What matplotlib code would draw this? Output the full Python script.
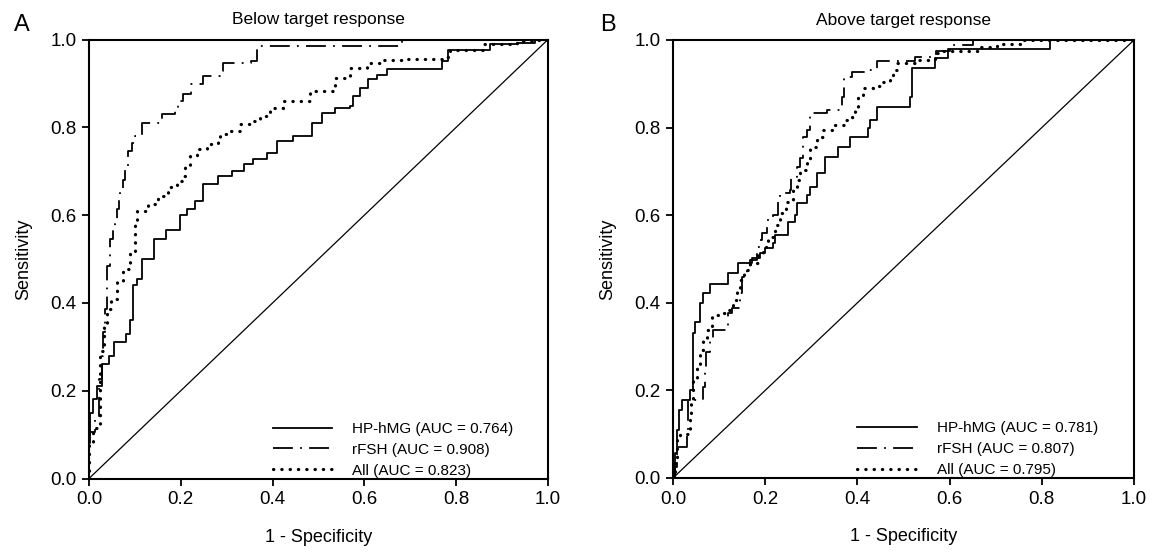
import matplotlib
matplotlib.use("Agg")
import matplotlib.pyplot as plt

plt.rcParams['font.family'] = ['Liberation Sans', 'DejaVu Sans']

# ROC staircase points: (1 - specificity, sensitivity) where each step rises
# Panel A - below target response
a_hmg_x = [0.0, 0.0, 0.003, 0.008, 0.018, 0.029, 0.044, 0.054, 0.080, 0.090, 0.095,
           0.105, 0.116, 0.141, 0.167, 0.198, 0.213, 0.231, 0.249, 0.282, 0.311,
           0.337, 0.357, 0.387, 0.409, 0.444, 0.485, 0.507, 0.537, 0.568, 0.576,
           0.591, 0.608, 0.627, 0.649, 0.769, 0.783, 0.873, 0.932, 0.971, 1.0]
a_hmg_y = [0.0, 0.10, 0.15, 0.18, 0.21, 0.26, 0.28, 0.31, 0.33, 0.36, 0.44,
           0.455, 0.50, 0.545, 0.565, 0.60, 0.615, 0.633, 0.67, 0.689, 0.70,
           0.716, 0.727, 0.742, 0.769, 0.78, 0.81, 0.833, 0.845, 0.848, 0.871,
           0.89, 0.909, 0.92, 0.933, 0.951, 0.977, 0.989, 0.992, 1.0, 1.0]

a_fsh_x = [0.0, 0.0, 0.002, 0.013, 0.021, 0.028, 0.031, 0.035, 0.039, 0.046, 0.053,
           0.056, 0.060, 0.065, 0.068, 0.075, 0.079, 0.085, 0.093, 0.100, 0.115,
           0.159, 0.187, 0.194, 0.205, 0.223, 0.249, 0.286, 0.293, 0.354, 0.367,
           0.681, 1.0]
a_fsh_y = [0.0, 0.08, 0.106, 0.136, 0.227, 0.28, 0.334, 0.386, 0.485, 0.545, 0.576,
           0.587, 0.614, 0.64, 0.652, 0.68, 0.705, 0.746, 0.765, 0.78, 0.81,
           0.83, 0.845, 0.86, 0.875, 0.898, 0.917, 0.928, 0.947, 0.951, 0.985,
           1.0, 1.0]

a_all_x = [0.0, 0.0, 0.009, 0.025, 0.032, 0.039, 0.049, 0.060, 0.075, 0.089, 0.100,
           0.104, 0.129, 0.150, 0.172, 0.191, 0.205, 0.209, 0.220, 0.235, 0.256,
           0.282, 0.286, 0.303, 0.329, 0.357, 0.373, 0.394, 0.423, 0.481, 0.537,
           0.568, 0.605, 0.641, 0.684, 0.771, 0.786, 0.858, 0.932, 0.971, 1.0]
a_all_y = [0.0, 0.076, 0.114, 0.29, 0.348, 0.386, 0.409, 0.45, 0.477, 0.515, 0.587,
           0.61, 0.625, 0.644, 0.664, 0.678, 0.689, 0.712, 0.735, 0.75, 0.761,
           0.766, 0.784, 0.792, 0.807, 0.814, 0.826, 0.845, 0.86, 0.883, 0.913,
           0.936, 0.947, 0.953, 0.955, 0.96, 0.976, 0.989, 0.996, 1.0, 1.0]

# Panel B - above target response
b_hmg_x = [0.0, 0.004, 0.008, 0.012, 0.019, 0.037, 0.044, 0.048, 0.059, 0.066, 0.080,
           0.120, 0.142, 0.171, 0.189, 0.200, 0.218, 0.221, 0.250, 0.265, 0.268,
           0.290, 0.297, 0.312, 0.330, 0.358, 0.384, 0.424, 0.427, 0.442, 0.514,
           0.518, 0.568, 0.597, 0.818, 1.0]
b_hmg_y = [0.0, 0.057, 0.11, 0.155, 0.178, 0.20, 0.33, 0.357, 0.399, 0.422, 0.444,
           0.467, 0.49, 0.502, 0.513, 0.524, 0.536, 0.555, 0.585, 0.60, 0.627,
           0.646, 0.665, 0.696, 0.734, 0.756, 0.779, 0.798, 0.817, 0.848, 0.871,
           0.935, 0.958, 0.979, 1.0, 1.0]

b_fsh_x = [0.0, 0.004, 0.008, 0.030, 0.033, 0.066, 0.070, 0.072, 0.080, 0.087, 0.116,
           0.120, 0.127, 0.145, 0.149, 0.160, 0.167, 0.182, 0.189, 0.192, 0.203,
           0.218, 0.228, 0.232, 0.254, 0.257, 0.268, 0.275, 0.283, 0.290, 0.297,
           0.333, 0.366, 0.370, 0.388, 0.420, 0.442, 0.525, 0.570, 0.600, 0.650, 1.0]
b_fsh_y = [0.0, 0.026, 0.07, 0.102, 0.178, 0.208, 0.254, 0.287, 0.315, 0.338, 0.345,
           0.376, 0.387, 0.422, 0.46, 0.482, 0.498, 0.528, 0.543, 0.559, 0.589,
           0.60, 0.635, 0.65, 0.658, 0.688, 0.711, 0.73, 0.779, 0.795, 0.833,
           0.84, 0.871, 0.916, 0.928, 0.932, 0.951, 0.962, 0.975, 0.989, 1.0, 1.0]

b_all_x = [0.0, 0.004, 0.008, 0.015, 0.037, 0.040, 0.044, 0.051, 0.059, 0.066, 0.073,
           0.084, 0.102, 0.116, 0.131, 0.138, 0.145, 0.153, 0.167, 0.185, 0.196,
           0.207, 0.221, 0.232, 0.245, 0.261, 0.268, 0.275, 0.290, 0.297, 0.312,
           0.326, 0.348, 0.370, 0.388, 0.395, 0.402, 0.412, 0.434, 0.456, 0.471,
           0.478, 0.485, 0.528, 0.557, 0.568, 0.586, 0.666, 0.702, 0.753, 1.0]
b_all_y = [0.0, 0.034, 0.09, 0.10, 0.148, 0.171, 0.224, 0.254, 0.292, 0.315, 0.338,
           0.372, 0.376, 0.384, 0.406, 0.429, 0.452, 0.475, 0.49, 0.509, 0.528,
           0.551, 0.578, 0.604, 0.63, 0.665, 0.68, 0.703, 0.726, 0.756, 0.779,
           0.795, 0.806, 0.817, 0.825, 0.848, 0.871, 0.89, 0.894, 0.904, 0.917,
           0.932, 0.947, 0.954, 0.956, 0.97, 0.974, 0.985, 0.992, 1.0, 1.0]

panels = [
    ("A", "Below target response", a_hmg_x, a_hmg_y, a_fsh_x, a_fsh_y, a_all_x, a_all_y,
     ["0.764", "0.908", "0.823"]),
    ("B", "Above target response", b_hmg_x, b_hmg_y, b_fsh_x, b_fsh_y, b_all_x, b_all_y,
     ["0.781", "0.807", "0.795"]),
]
ticks = [0.0, 0.2, 0.4, 0.6, 0.8, 1.0]
tick_labels = ["0.0", "0.2", "0.4", "0.6", "0.8", "1.0"]

fig = plt.figure(figsize=(11.5, 5.56), dpi=100)
axes_pos = [[89 / 1150, 77.5 / 556, 459 / 1150, 439 / 556],
            [673 / 1150, 78 / 556, 461 / 1150, 438 / 556]]
letter_x = [14 / 1150, 600 / 1150]

for i, (letter, title, hx, hy, fx, fy, ax_, ay, aucs) in enumerate(panels):
    ax = fig.add_axes(axes_pos[i])
    ax.plot([0, 1], [0, 1], color='black', lw=0.9)
    ax.step(hx, hy, where='post', color='black', lw=1.3,
            label=f"HP-hMG (AUC = {aucs[0]})")
    ax.step(fx, fy, where='post', color='black', lw=1.3,
            linestyle=(0, (11, 4, 1, 4)), label=f"rFSH (AUC = {aucs[1]})")
    ax.step(ax_, ay, where='post', color='black', lw=2.3,
            linestyle=(0, (0.1, 2.5)), dash_capstyle='round',
            label=f"All (AUC = {aucs[2]})")

    ax.set_xlim(0, 1)
    ax.set_ylim(0, 1)
    ax.set_xticks(ticks)
    ax.set_xticklabels(tick_labels)
    ax.set_yticks(ticks)
    ax.set_yticklabels(tick_labels)
    ax.tick_params(direction='out', length=5, width=1.3, labelsize=13.5, pad=4)
    for s in ax.spines.values():
        s.set_linewidth(1.5)
    ax.set_xlabel("1 - Specificity", fontsize=13, labelpad=15)
    ax.set_ylabel("Sensitivity", fontsize=13, labelpad=13)
    ax.set_title(title, fontsize=12.5, pad=11)

    ax.legend(loc='upper left', bbox_to_anchor=(0.40, 0.129), frameon=False,
              fontsize=11, handlelength=3.9, handletextpad=1.3,
              labelspacing=0.45, borderpad=0, borderaxespad=0)

    fig.text(letter_x[i], 1 - 31 / 556, letter, fontsize=17, va='baseline')

plt.savefig("out.png", dpi=100)
